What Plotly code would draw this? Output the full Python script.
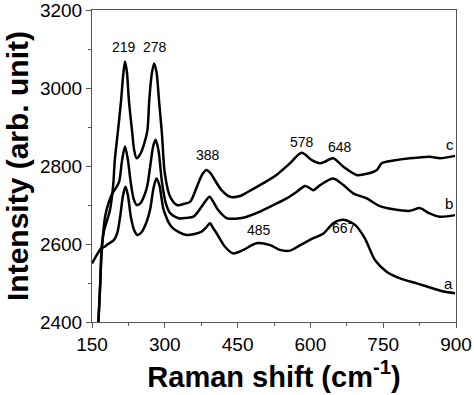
import plotly.graph_objects as go

# Curve a
x_a = [150,160,169,176,183,195,202,208,214,219,224,230,237,244,252,262,270,277,283,289,293,297,300,308,317,345,376,385,393,400,407,424,441,462,489,517,537,558,579,606,627,647,668,692,712,733,757,785,819,853,874,898]
y_a = [2550,2572,2589,2593,2600,2610,2628,2670,2725,2747,2725,2670,2635,2623,2630,2655,2690,2745,2768,2750,2720,2690,2679,2655,2640,2623,2632,2642,2653,2640,2627,2593,2576,2585,2602,2597,2585,2583,2597,2615,2627,2653,2662,2649,2615,2559,2529,2512,2499,2486,2478,2474]

# Curve b
x_b = [158,163,167,170,177,184,192,200,206,212,218,224,230,236,242,250,258,264,270,276,281,287,294,302,311,328,345,359,376,385,392,400,410,428,455,469,496,524,551,572,589,599,606,620,647,668,688,716,743,771,805,826,843,867,898]
y_b = [2330,2400,2500,2580,2670,2705,2730,2745,2760,2815,2850,2815,2756,2715,2700,2705,2725,2750,2800,2850,2867,2840,2760,2705,2679,2666,2667,2670,2696,2712,2721,2708,2687,2666,2666,2670,2683,2700,2717,2734,2749,2743,2738,2751,2768,2751,2730,2717,2697,2689,2685,2692,2680,2670,2674]

# Curve c
x_c = [158,163,167,170,175,181,187,191,194,197,203,210,214,218,222,226,233,237,242,250,257,264,268,273,278,283,288,294,300,311,325,340,352,369,378,386,394,403,417,434,455,469,503,530,558,582,603,620,630,647,668,695,716,737,747,771,805,846,867,898]
y_c = [2330,2400,2500,2593,2635,2660,2687,2720,2756,2815,2884,2969,3030,3068,3040,2969,2884,2840,2820,2832,2855,2890,2969,3035,3063,3040,2969,2884,2781,2721,2700,2703,2708,2756,2780,2790,2782,2764,2738,2721,2723,2732,2756,2777,2807,2834,2815,2807,2811,2820,2798,2777,2780,2790,2807,2814,2820,2824,2820,2826]

# Peak labels
peak_text = ["219", "278", "388", "578", "648", "485", "667"]
peak_x = [216, 280, 390, 582, 660, 495, 669]
peak_y = [3105, 3105, 2828, 2862, 2848, 2636, 2640]

curve_text = ["c", "b", "a"]
curve_x = [888, 886, 884]
curve_y = [2854, 2705, 2500]

x_ticks = [150, 300, 450, 600, 750, 900]
y_ticks = [2400, 2600, 2800, 3000, 3200]

FONT = "Liberation Sans, Arial, sans-serif"

fig = go.Figure()
for xs, ys in [(x_a, y_a), (x_b, y_b), (x_c, y_c)]:
    fig.add_trace(go.Scatter(x=xs, y=ys, mode="lines",
                             line=dict(color="black", width=2.5, shape="spline", smoothing=0.8),
                             showlegend=False, hoverinfo="skip"))

for t, x, y in zip(peak_text + curve_text, peak_x + curve_x, peak_y + curve_y):
    fig.add_annotation(x=x, y=y, text=t, showarrow=False,
                       font=dict(size=14 if t.isdigit() else 15, color="black", family=FONT))

axis_common = dict(showgrid=False, zeroline=False, showline=True, linecolor="#555",
                   linewidth=1, mirror=True, ticks="outside", ticklen=5, tickwidth=1,
                   tickcolor="#555", automargin=False, ticklabeloverflow="allow",
                   tickfont=dict(size=19, color="black", family=FONT))

fig.update_xaxes(range=[150, 900], tickvals=x_ticks,
                 minor=dict(dtick=75, ticks="outside", ticklen=3, tickcolor="#555"),
                 title=dict(text="<b>Raman shift (cm<sup>-1</sup>)</b>", standoff=12,
                            font=dict(size=29, color="black", family=FONT)),
                 **axis_common)
fig.update_yaxes(range=[2400, 3200], tickvals=y_ticks,
                 minor=dict(dtick=100, ticks="outside", ticklen=3, tickcolor="#555"),
                 title=dict(text="<b>Intensity (arb. unit)</b>", standoff=2,
                            font=dict(size=30, color="black", family=FONT)),
                 **axis_common)

fig.update_layout(width=474, height=395, margin=dict(l=92, r=18, t=10, b=73),
                  plot_bgcolor="white", paper_bgcolor="white")

# remove the default page margin so the figure sits at the window's top-left corner
fig.write_html("out.html", config={"displayModeBar": False},
               post_script="document.body.style.margin='0';")
